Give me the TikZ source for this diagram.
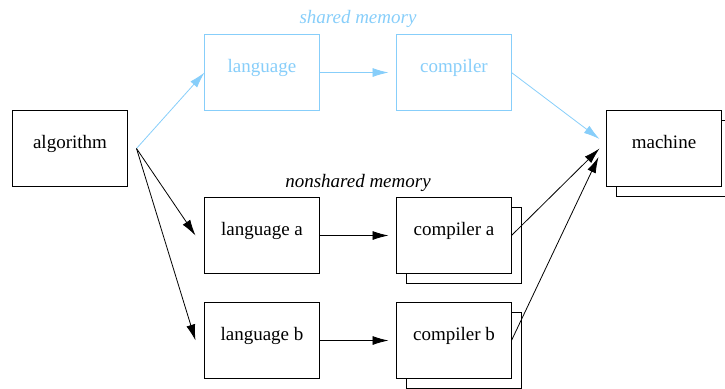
\documentclass[tikz,border=0pt]{standalone}
\usepackage{xcolor}
\usepackage{fontspec}
\setmainfont{Liberation Serif}
\usepackage{tikz}
\usetikzlibrary{arrows.meta, positioning, shadows, calc}
\definecolor{skyline}{RGB}{135,206,250}
\tikzstyle{block} = [rectangle, minimum width=57.5pt, minimum height=38pt, inner sep=0pt, outer sep=0pt, text height=6.5pt, text depth=7pt, draw=black, line width=0.5pt, fill=white, font=\fontsize{9.5}{11}\selectfont]
\tikzstyle{stacked} = [block, copy shadow={shadow xshift=5pt, shadow yshift=-5pt}]
\tikzstyle{arrow} = [line width=0.4pt, -{Latex[length=8pt, width=4.5pt]}]
\tikzstyle{sharedarrow} = [arrow, draw=skyline]
\tikzstyle{memlabel} = [font=\fontsize{9.5}{11}\selectfont\itshape]

\begin{document}
\begin{tikzpicture}[x=0.5pt, y=-0.5pt, node distance=38.5pt]
    \useasboundingbox (0,0) rectangle (725,388);

    % Source and target
    \node[block] (algorithm) at (70,148.5) {algorithm};

    % Shared memory path
    \node[block, draw=skyline, text=skyline, above right=0pt and 38.5pt of algorithm] (lang) {language};
    \node[block, draw=skyline, text=skyline, right=of lang] (comp) {compiler};
    \node[stacked, below right=0pt and 47.5pt of comp] (machine) {machine};

    % Nonshared memory path
    \node[block, below=43.5pt of lang] (langa) {language a};
    \node[stacked, right=of langa] (compa) {compiler a};
    \node[block, below=14.5pt of langa] (langb) {language b};
    \node[stacked, right=of langb] (compb) {compiler b};

    % Labels
    \node[memlabel, text=skyline] (sharedlbl) at ($(lang.north)!0.5!(comp.north)+(0,8pt)$) {shared memory};
    \node[memlabel] (nonsharedlbl) at ($(langa.north)!0.5!(compa.north)+(0,7.5pt)$) {nonshared memory};

    % Flow
    \draw[sharedarrow] ([xshift=4.5pt]algorithm.east) -- (lang.west);
    \draw[sharedarrow] (lang.east) -- ([xshift=-4pt]comp.west);
    \draw[sharedarrow] (comp.east) -- ([xshift=-3.5pt, yshift=4.75pt]machine.west);
    \draw[arrow] ([xshift=4.5pt]algorithm.east) -- ([xshift=-4.5pt]langa.west);
    \draw[arrow] ([xshift=4.5pt]algorithm.east) -- ([xshift=-4.5pt]langb.west);
    \draw[arrow] (langa.east) -- ([xshift=-4pt]compa.west);
    \draw[arrow] (langb.east) -- ([xshift=-4pt]compb.west);
    \draw[arrow] (compa.east) -- ([xshift=-3.5pt]machine.west);
    \draw[arrow] (compb.east) -- ([xshift=-4pt, yshift=-4.25pt]machine.west);

\end{tikzpicture}
\end{document}
